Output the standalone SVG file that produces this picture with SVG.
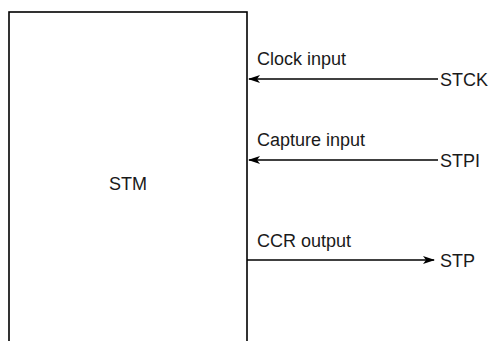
<svg xmlns="http://www.w3.org/2000/svg" width="490" height="341" viewBox="0 0 490 341">
<style>
text{font-family:"Liberation Sans",Arial,sans-serif;font-size:18px;fill:#1a1a1a}
.box{fill:#fff;stroke:#000;stroke-width:1.6}
.edge{stroke:#000;stroke-width:1.5;fill:none}
</style>
<defs>
<marker id="ah" viewBox="0 0 12 10" refX="11" refY="5" markerWidth="12" markerHeight="10" markerUnits="userSpaceOnUse" orient="auto">
<path d="M0,1 L12,5 L0,9 L3,5 Z" fill="#000"/>
</marker>
</defs>
<rect width="490" height="341" fill="#fff"/>
<g id="stm">
<rect class="box" x="9" y="12" width="238" height="400"/>
<text x="128" y="190" text-anchor="middle">STM</text>
</g>
<g id="connectors">
<line class="edge" x1="438" y1="79" x2="249" y2="79" marker-end="url(#ah)"/>
<line class="edge" x1="438" y1="160" x2="249" y2="160" marker-end="url(#ah)"/>
<line class="edge" x1="247" y1="260" x2="434" y2="260" marker-end="url(#ah)"/>
</g>
<g id="labels">
<text x="257" y="65">Clock input</text>
<text x="257" y="146">Capture input</text>
<text x="257" y="247">CCR output</text>
</g>
<g id="stck"><text x="440" y="86">STCK</text></g>
<g id="stpi"><text x="440" y="167">STPI</text></g>
<g id="stp"><text x="440" y="267">STP</text></g>
</svg>
